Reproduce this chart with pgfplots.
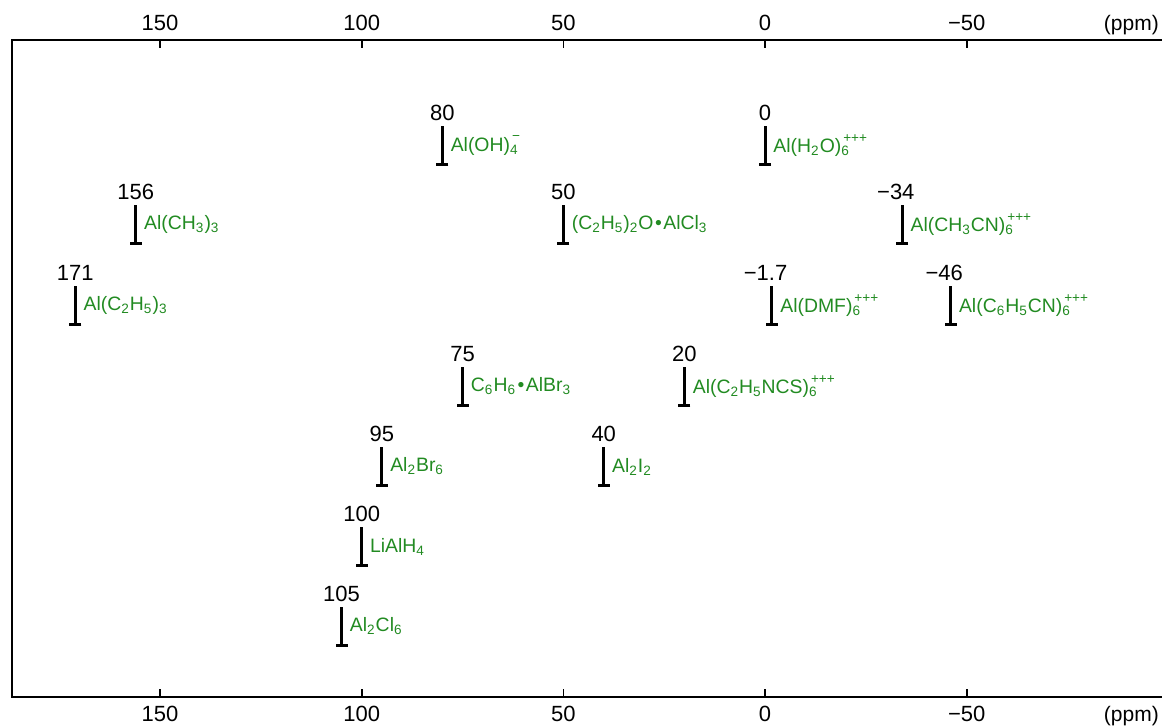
\documentclass[border=0pt]{standalone}
\usepackage{fontspec}
\setmainfont{Liberation Sans}
\usepackage{pgfplots}
\pgfplotsset{compat=1.18}
\definecolor{cmpd}{RGB}{34,139,34}

\newcommand{\numfont}{\fontsize{11}{13}\selectfont}
\newcommand{\cmpfont}{\fontsize{9.7}{11}\selectfont}
\newcommand{\sub}[1]{\textsubscript{#1}}
% subscript with a charge set above it
\newcommand{\chg}[2]{\rlap{\textsubscript{#1}}\raisebox{0.15em}{\kern0.1em\textsuperscript{#2}}}
\newcommand{\dotsep}{\kern0.08em\textbullet\kern0.08em}

% one chemical shift: ppm, foot y, top y, shift label, compound
\newcommand{\peak}[5]{%
  \addplot[black, line width=1.5pt, mark=-, mark size=3pt, mark indices={1},
           mark options={solid}] coordinates {(#1,#2) (#1,#3)};
  \path (axis cs:#1,#2) -- (axis cs:#1,#3)
    node[midway, anchor=west, inner sep=0pt, xshift=4pt, text=cmpd] {\cmpfont #5}
    node[pos=1, anchor=south, inner sep=0pt, yshift=2.5pt] {\numfont #4};
}

\pgfplotsset{shiftaxis/.style={
  scale only axis, width=598.4pt, height=328.5pt,
  at={(0,0)}, anchor=south west,
  xmin=-110, xmax=186.7, ymin=0, ymax=657, x dir=reverse,
  xtick={150,100,50,0,-50}, xticklabels={150,100,50,0,−50},
  ytick=\empty, tick align=inside, major tick length=4pt,
  every tick/.style={black, line width=0.9pt},
  axis line style={line width=1pt},
  clip=false,
}}

\begin{document}
\begin{tikzpicture}
\useasboundingbox (-6pt,-15pt) rectangle (575pt,348.5pt);
% upper scale
\begin{axis}[shiftaxis, xtick pos=both, xticklabel pos=upper,
  xticklabel style={font=\numfont, anchor=base, yshift=4.5pt}]
\node[anchor=base, yshift=4.5pt, font=\fontsize{10.5}{12}\selectfont] at (axis cs:-90.8,657) {(ppm)};
\end{axis}
% main panel with lower scale
\begin{axis}[shiftaxis, xtick pos=both, xticklabel pos=lower,
  xticklabel style={font=\numfont, anchor=base, yshift=-12.5pt}]
\node[anchor=base, yshift=-12.5pt, font=\fontsize{10.5}{12}\selectfont] at (axis cs:-90.8,0) {(ppm)};

\peak{80}{532}{571}{80}{Al(OH)\chg{4}{−}}
\peak{0}{532}{571}{0}{Al(H\sub{2}O)\chg{6}{+++}}

\peak{156}{453}{492}{156}{Al(CH\sub{3})\sub{3}}
\peak{50}{453}{492}{50}{(C\sub{2}H\sub{5})\sub{2}O\dotsep AlCl\sub{3}}
\peak{-34}{453}{492}{\llap{−}34}{Al(CH\sub{3}CN)\chg{6}{+++}}

\peak{171}{372}{411}{171}{Al(C\sub{2}H\sub{5})\sub{3}}
\peak{-1.7}{372}{411}{\llap{−}1.7}{Al(DMF)\chg{6}{+++}}
\peak{-46}{372}{411}{\llap{−}46}{Al(C\sub{6}H\sub{5}CN)\chg{6}{+++}}

\peak{75}{291}{330}{75}{C\sub{6}H\sub{6}\dotsep AlBr\sub{3}}
\peak{20}{291}{330}{20}{Al(C\sub{2}H\sub{5}NCS)\chg{6}{+++}}

\peak{95}{211}{250}{95}{Al\sub{2}Br\sub{6}}
\peak{40}{211}{250}{40}{Al\sub{2}I\sub{2}}

\peak{100}{131}{170}{100}{LiAlH\sub{4}}

\peak{105}{51}{90}{105}{Al\sub{2}Cl\sub{6}}
\end{axis}
\end{tikzpicture}
\end{document}
